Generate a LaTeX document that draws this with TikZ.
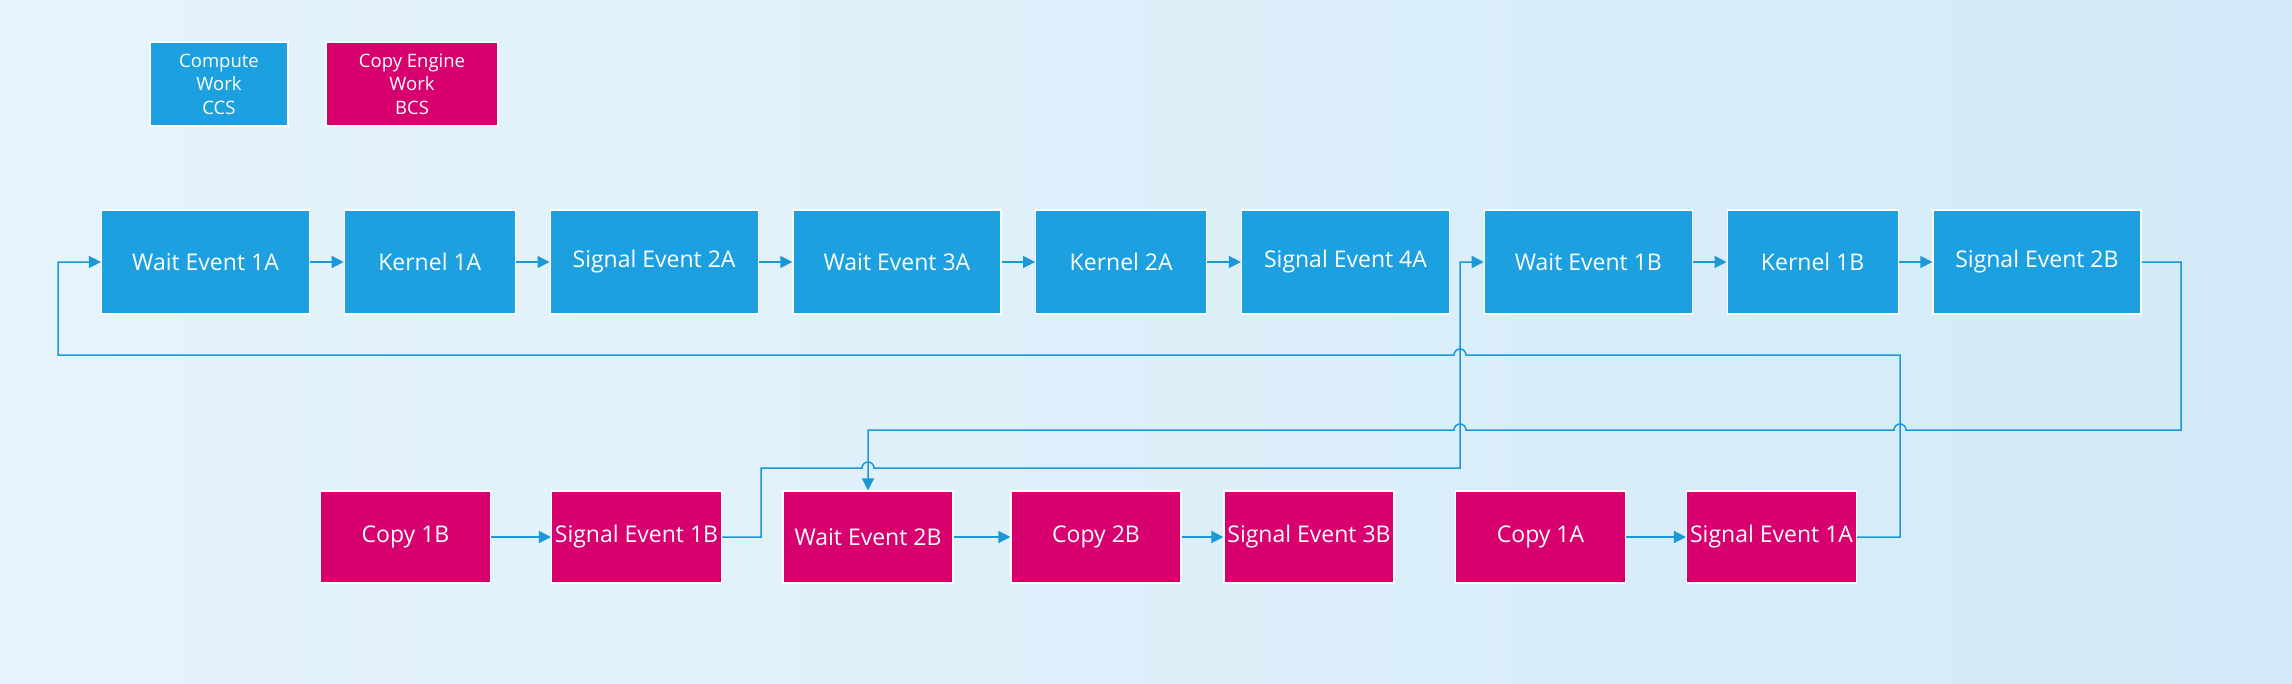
\documentclass[tikz,border=0pt]{standalone}
\usepackage{fontspec}
\setmainfont{Open Sans}
\usetikzlibrary{positioning,arrows.meta}
\definecolor{ccsblue}{HTML}{1DA0E0}
\definecolor{bcsred}{HTML}{D8006F}
\definecolor{linkblue}{HTML}{1B98D6}
\definecolor{bgleft}{HTML}{E6F4FB}
\definecolor{bgright}{HTML}{D3EAF8}
\tikzset{%
  cmd/.style={
    draw=white,
    line width=1.2pt,
    text=white,
    inner sep=0pt,
    font=\fontsize{23}{27}\selectfont
  },
  ccs/.style={cmd, fill=ccsblue, minimum height=104pt},
  bcs/.style={cmd, fill=bcsred, minimum height=92pt, minimum width=170pt},
  wide/.style={minimum width=208pt},
  narrow/.style={minimum width=171pt},
  legend/.style={
    cmd,
    align=center,
    minimum height=84pt,
    font=\fontsize{18.5}{23.5}\selectfont
  },
  link/.style={linkblue, line width=1.5pt},
  flow/.style={link, -{Triangle[length=12pt,width=12pt]}},
}

\begin{document}
\begin{tikzpicture}[x=1pt, y=-1pt, node distance=33.6pt]
\shade[left color=bgleft, right color=bgright] (0,0) rectangle (2292,683);
\useasboundingbox (0,0) rectangle (2292,683);

% legend
\node[legend, fill=ccsblue, minimum width=138pt] (legccs) at (219,84) {Compute\\Work\\CCS};
\node[legend, fill=bcsred, minimum width=172pt] (legbcs) at (412,84) {Copy Engine\\Work\\BCS};

% compute queue
\node[ccs, wide] (w1a) at (205.5,262) {Wait Event 1A};
\node[ccs, narrow, right=of w1a] (k1a) {Kernel 1A};
\node[ccs, wide, right=of k1a] (s2a) {Signal Event 2A};
\node[ccs, wide, right=of s2a] (w3a) {Wait Event 3A};
\node[ccs, narrow, right=of w3a] (k2a) {Kernel 2A};
\node[ccs, wide, right=of k2a] (s4a) {Signal Event 4A};
\node[ccs, wide, right=of s4a] (w1b) {Wait Event 1B};
\node[ccs, narrow, right=of w1b] (k1b) {Kernel 1B};
\node[ccs, wide, right=of k1b] (s2b) {Signal Event 2B};

% copy queue
\node[bcs] (c1b) at (405.5,537) {Copy 1B};
\node[bcs] (s1b) at (636.5,537) {Signal Event 1B};
\node[bcs] (w2b) at (868,537) {Wait Event 2B};
\node[bcs] (c2b) at (1096,537) {Copy 2B};
\node[bcs] (s3b) at (1309,537) {Signal Event 3B};
\node[bcs] (c1a) at (1540.5,537) {Copy 1A};
\node[bcs] (s1a) at (1771.5,537) {Signal Event 1A};

\foreach \a/\b in {w1a/k1a, k1a/s2a, s2a/w3a, w3a/k2a, k2a/s4a, w1b/k1b, k1b/s2b,
                   c1b/s1b, w2b/c2b, c2b/s3b, c1a/s1a}
    \draw[flow] (\a) -- (\b);

% cross queue signals
\draw[flow] (s1a.east) -| (1900,355) -- (1466,355)
    arc[start angle=0, end angle=-180, radius=6] -- (58,355) |- (w1a.west);
\draw[flow] (s2b.east) -| (2181,430) -- (1906,430)
    arc[start angle=0, end angle=-180, radius=6] -- (1466,430)
    arc[start angle=0, end angle=-180, radius=6] -- (868,430) -- (w2b.north);
\draw[flow] (s1b.east) -| (761,468) -- (862,468)
    arc[start angle=180, end angle=360, radius=6] -- (1460,468) |- (w1b.west);
\end{tikzpicture}
\end{document}
